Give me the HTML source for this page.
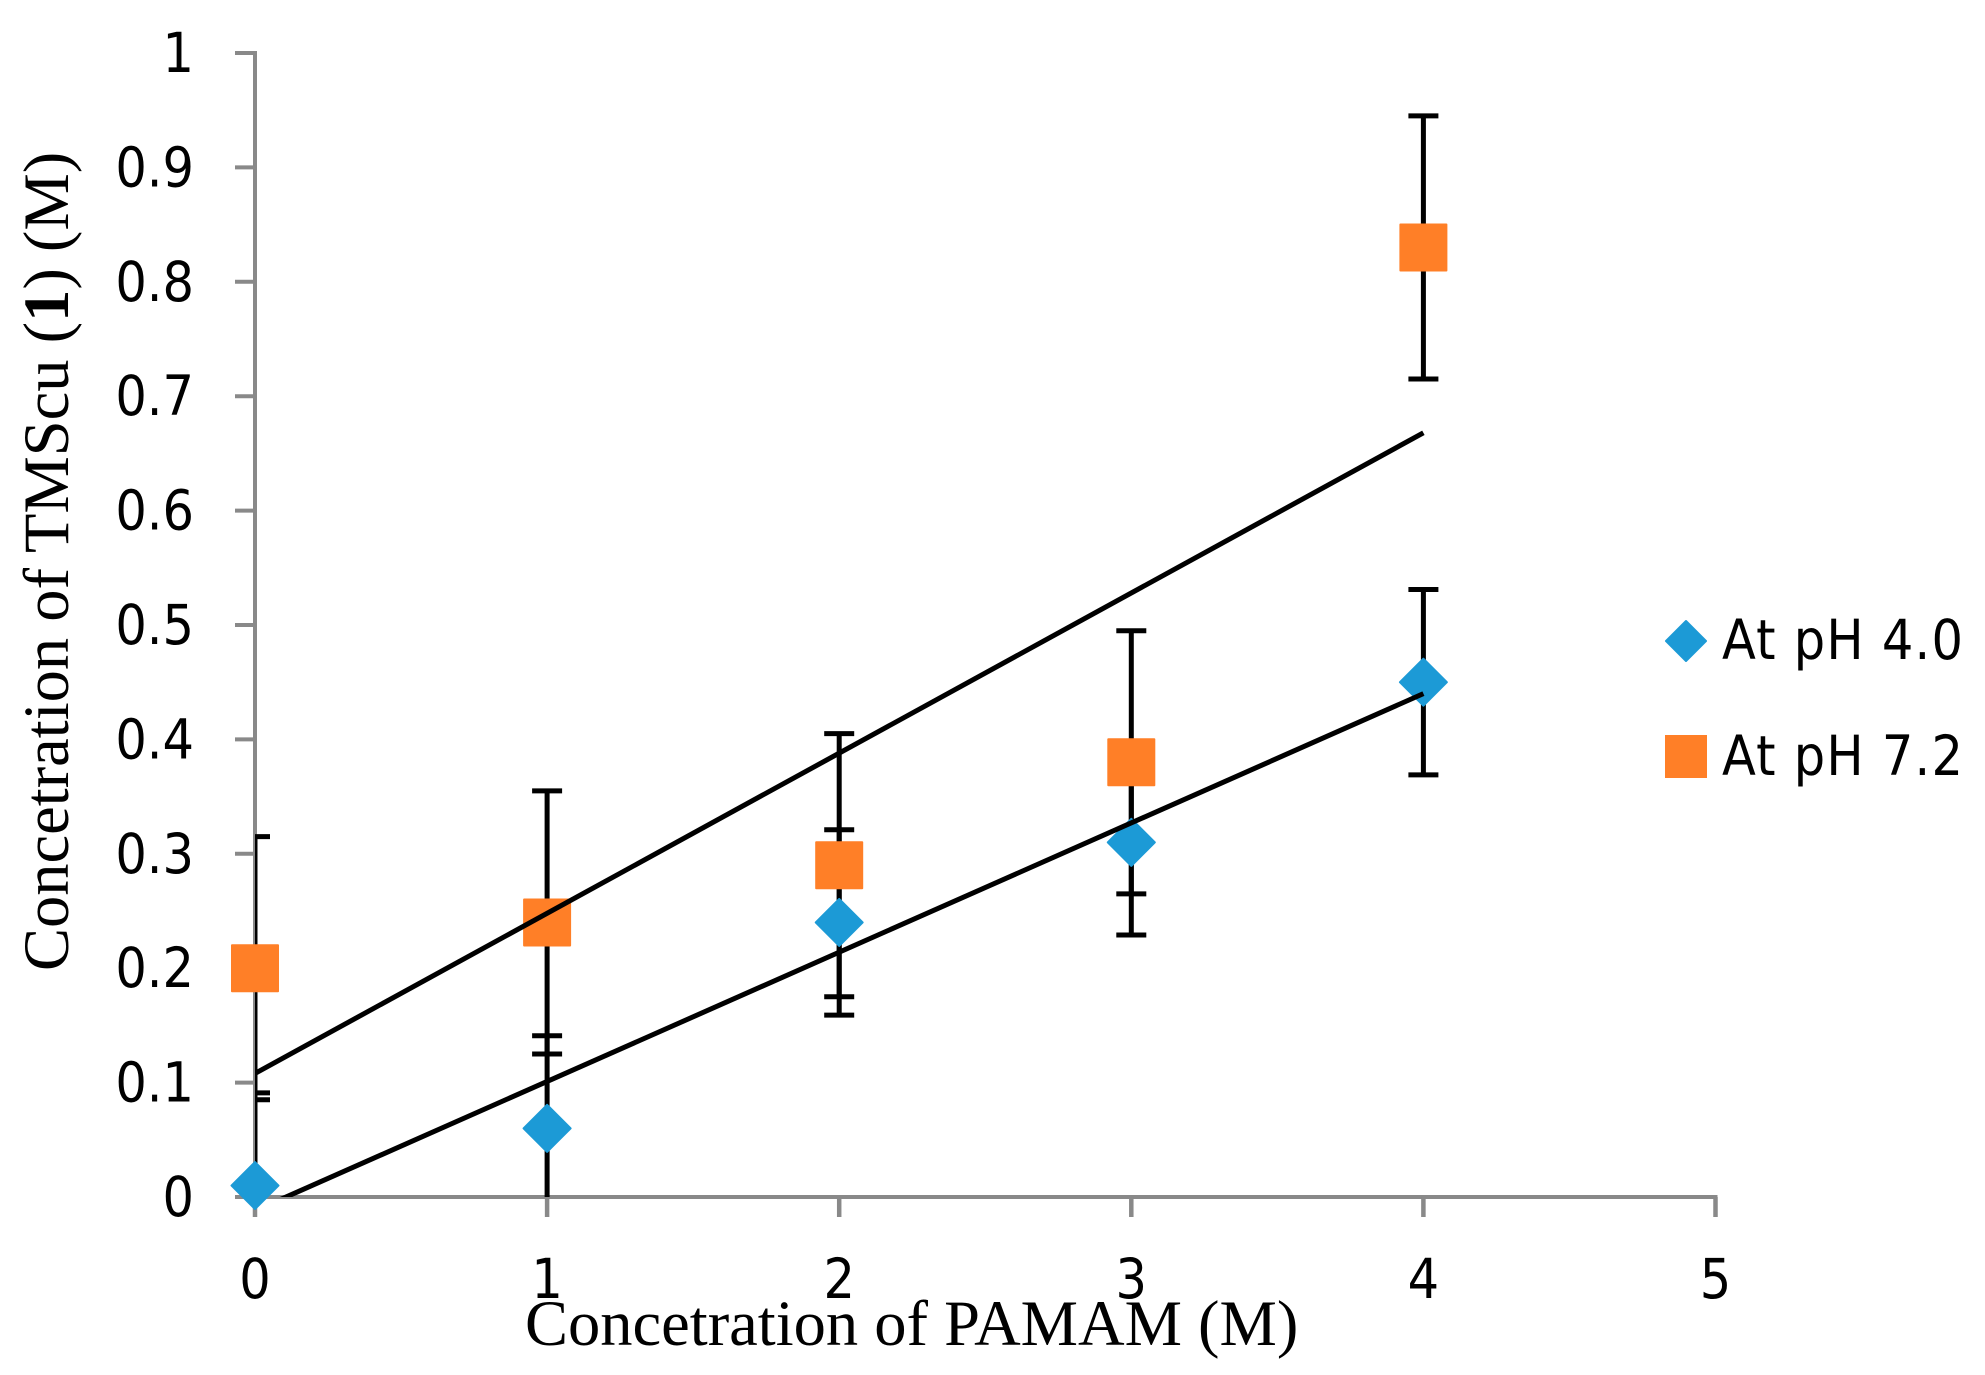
<!DOCTYPE html>
<html lang="en">
<head>
<meta charset="utf-8">
<title>Concentration chart</title>
<style>
html,body{margin:0;padding:0;background:#fff;}
svg{display:block;}
.tick{font-family:"DejaVu Sans","Liberation Sans",sans-serif;font-stretch:condensed;font-size:55px;fill:#000;}
.legend-text{letter-spacing:1.25px;}
.title{font-family:"Liberation Serif",serif;font-size:64.5px;fill:#000;}
</style>
</head>
<body>
<svg id="chart" xmlns="http://www.w3.org/2000/svg" width="1985" height="1375" viewBox="0 0 1985 1375">
  <defs>
    <clipPath id="plot-clip"><rect x="255" y="0" width="1500" height="1197"></rect></clipPath>
  </defs>
  <rect x="0" y="0" width="1985" height="1375" fill="#ffffff"></rect>
  <g id="axes"></g>
  <g id="errors" clip-path="url(#plot-clip)"></g>
  <g id="markers"></g>
  <g id="trends" clip-path="url(#plot-clip)"></g>
  <text class="title" x="525" y="1345">Concetration of PAMAM (M)</text>
  <text class="title" transform="translate(68 971) rotate(-90)">Concetration of TMScu (<tspan font-weight="bold">1</tspan>) (M)</text>
  <g>
    <path d="M1686 621L1706 641L1686 661L1666 641Z" fill="#1c9ad6" stroke="#1c9ad6" stroke-width="2" stroke-linejoin="round"></path>
    <text class="tick legend-text" x="1722" y="659">At pH 4.0</text>
    <rect x="1665" y="735" width="42" height="43" fill="#ff7f27"></rect>
    <text class="tick legend-text" x="1722" y="775">At pH 7.2</text>
  </g>
</svg>
<script>
var categories = [0, 1, 2, 3, 4];
var ph4Values = [0.01, 0.06, 0.24, 0.31, 0.45];
var ph7Values = [0.2, 0.24, 0.29, 0.38, 0.83];
var ph4Error = [0.081, 0.081, 0.081, 0.081, 0.081];
var ph7Error = [0.115, 0.115, 0.115, 0.115, 0.115];
var xTickLabels = ["0", "1", "2", "3", "4", "5"];
var yTickLabels = ["0", "0.1", "0.2", "0.3", "0.4", "0.5", "0.6", "0.7", "0.8", "0.9", "1"];

var NS = "http://www.w3.org/2000/svg";
function xScale(v) { return 255 + v * 292.1; }
function yScale(v) { return 1197 - v * 1144; }
function make(parent, tag, attrs, text) {
  var el = document.createElementNS(NS, tag);
  for (var k in attrs) { el.setAttribute(k, attrs[k]); }
  if (text !== undefined) { el.textContent = text; }
  parent.appendChild(el);
  return el;
}
var axes = document.getElementById("axes");
var errors = document.getElementById("errors");
var markers = document.getElementById("markers");
var trends = document.getElementById("trends");
var AXIS = "#898989";

var yAxis = make(axes, "line", {x1: 255, x2: 255, y1: yScale(1) - 2, y2: yScale(0) + 2, stroke: AXIS, "stroke-width": 4});


var xAxis = make(axes, "line", {x1: 253, x2: xScale(5) + 2, y1: yScale(0), y2: yScale(0), stroke: AXIS, "stroke-width": 4});



yTickLabels.forEach(function (label) {
  var v = parseFloat(label);
  var y = yScale(v);
  var t = make(axes, "line", {x1: 235, x2: 255, y1: y, y2: y, stroke: AXIS, "stroke-width": 4});
  
  
  var l = make(axes, "text", {x: 194, y: y + 19, "text-anchor": "end", "class": "tick"}, label);
  
  
});
xTickLabels.forEach(function (label) {
  var v = parseFloat(label);
  var x = xScale(v);
  var t = make(axes, "line", {x1: x, x2: x, y1: yScale(0), y2: 1217, stroke: AXIS, "stroke-width": 4.5});
  
  
  var l = make(axes, "text", {x: x, y: 1298, "text-anchor": "middle", "class": "tick"}, label);
  
  
});

function drawErrors(values, errs) {
  categories.forEach(function (c, i) {
    var x = xScale(c);
    var hi = yScale(values[i] + errs[i]);
    var lo = yScale(values[i] - errs[i]);
    var stem = make(errors, "line", {x1: x, x2: x, y1: hi, y2: lo, stroke: "#000", "stroke-width": 5});
    
    
    var capTop = make(errors, "line", {x1: x - 15, x2: x + 15, y1: hi, y2: hi, stroke: "#000", "stroke-width": 5});
    
    
    var capBottom = make(errors, "line", {x1: x - 15, x2: x + 15, y1: lo, y2: lo, stroke: "#000", "stroke-width": 5});
    
    
  });
}
drawErrors(ph4Values, ph4Error);
drawErrors(ph7Values, ph7Error);

categories.forEach(function (c, i) {
  var x = xScale(c);
  var y = yScale(ph4Values[i]);
  var r = 23.5;
  var d = make(markers, "path", {
    d: "M" + x + " " + (y - r) + "L" + (x + r) + " " + y + "L" + x + " " + (y + r) + "L" + (x - r) + " " + y + "Z",
    fill: "#1c9ad6", stroke: "#1c9ad6", "stroke-width": 2, "stroke-linejoin": "round"
  });
  
  
});
categories.forEach(function (c, i) {
  var x = xScale(c);
  var y = yScale(ph7Values[i]);
  var s = make(markers, "rect", {x: x - 24, y: y - 24, width: 48, height: 48, rx: 1, fill: "#ff7f27"});
  
  
});

function fitLine(values) {
  var n = categories.length, sx = 0, sy = 0, sxy = 0, sxx = 0;
  categories.forEach(function (c, i) {
    sx += c; sy += values[i]; sxy += c * values[i]; sxx += c * c;
  });
  var slope = (n * sxy - sx * sy) / (n * sxx - sx * sx);
  return {slope: slope, intercept: (sy - slope * sx) / n};
}
function drawTrend(values, name) {
  var fit = fitLine(values);
  var first = categories[0];
  var last = categories[categories.length - 1];
  var line = make(trends, "line", {
    x1: xScale(first), y1: yScale(fit.intercept + fit.slope * first),
    x2: xScale(last), y2: yScale(fit.intercept + fit.slope * last),
    stroke: "#000", "stroke-width": 5
  });
  
  
}
drawTrend(ph4Values, 'trendline-ph-4');
drawTrend(ph7Values, 'trendline-ph-7');
</script>
</body>
</html>
